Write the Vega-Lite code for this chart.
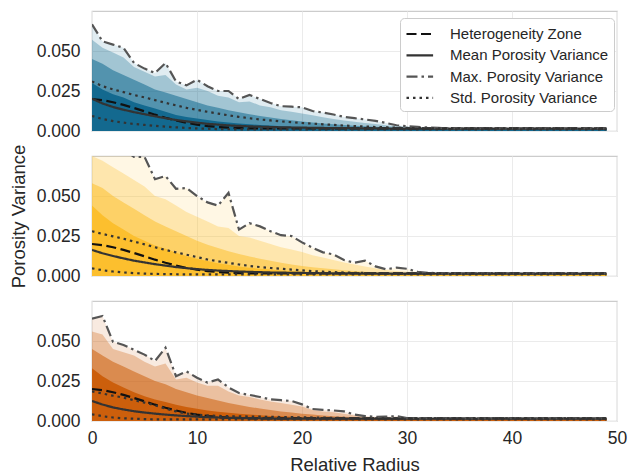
{
"$schema":"https://vega.github.io/schema/vega-lite/v6.json",
"padding":{"left":8,"top":10,"right":5,"bottom":0},
"bounds":"flush",
"spacing":25,
"config":{
 "font":"Liberation Sans",
 "view":{"stroke":"#cccccc","strokeWidth":1.25},
 "axis":{"grid":true,"gridColor":"#ebebeb","gridWidth":1,"domain":false,"ticks":false,"labelFontSize":17.5,"labelColor":"#262626","titleFontSize":18.5,"titleColor":"#262626","titleFontWeight":"normal","labelFont":"Liberation Sans","titleFont":"Liberation Sans","labelFlush":false}
},
"datasets":{"d":[
{"p":1,"x":0,"h":0.02,"m":0.0202,"mx":0.0667,"su":0.031,"sl":0.0094,"q1":0.03,"q2":0.045,"q3":0.057},
{"p":1,"x":1,"h":0.0193,"m":0.0172,"mx":0.056,"su":0.028,"sl":0.0075,"q1":0.026,"q2":0.042,"q3":0.052},
{"p":1,"x":2,"h":0.018,"m":0.015,"mx":0.054,"su":0.026,"sl":0.0062,"q1":0.023,"q2":0.038,"q3":0.049},
{"p":1,"x":3,"h":0.0163,"m":0.0133,"mx":0.052,"su":0.0243,"sl":0.0052,"q1":0.021,"q2":0.035,"q3":0.046},
{"p":1,"x":4,"h":0.0144,"m":0.0118,"mx":0.0425,"su":0.0225,"sl":0.0044,"q1":0.018,"q2":0.032,"q3":0.04},
{"p":1,"x":5,"h":0.0123,"m":0.0105,"mx":0.039,"su":0.021,"sl":0.0038,"q1":0.016,"q2":0.029,"q3":0.037},
{"p":1,"x":6,"h":0.0102,"m":0.0092,"mx":0.0362,"su":0.0193,"sl":0.0032,"q1":0.014,"q2":0.026,"q3":0.034},
{"p":1,"x":7,"h":0.0083,"m":0.008,"mx":0.0425,"su":0.0176,"sl":0.0027,"q1":0.012,"q2":0.024,"q3":0.035},
{"p":1,"x":8,"h":0.0066,"m":0.0069,"mx":0.031,"su":0.016,"sl":0.0023,"q1":0.01,"q2":0.022,"q3":0.029},
{"p":1,"x":9,"h":0.0051,"m":0.006,"mx":0.0285,"su":0.0145,"sl":0.0019,"q1":0.0088,"q2":0.02,"q3":0.026},
{"p":1,"x":10,"h":0.004,"m":0.0052,"mx":0.032,"su":0.0132,"sl":0.0016,"q1":0.0078,"q2":0.018,"q3":0.027},
{"p":1,"x":11,"h":0.0031,"m":0.0045,"mx":0.028,"su":0.012,"sl":0.0014,"q1":0.0068,"q2":0.016,"q3":0.025},
{"p":1,"x":12,"h":0.0025,"m":0.004,"mx":0.025,"su":0.0109,"sl":0.0012,"q1":0.006,"q2":0.0145,"q3":0.022},
{"p":1,"x":13,"h":0.0021,"m":0.0035,"mx":0.025,"su":0.0098,"sl":0.0011,"q1":0.0053,"q2":0.013,"q3":0.021},
{"p":1,"x":14,"h":0.0018,"m":0.0032,"mx":0.02,"su":0.0088,"sl":0.001,"q1":0.0047,"q2":0.0117,"q3":0.018},
{"p":1,"x":15,"h":0.0017,"m":0.0029,"mx":0.0225,"su":0.008,"sl":0.001,"q1":0.0042,"q2":0.0105,"q3":0.0185},
{"p":1,"x":16,"h":0.0016,"m":0.0027,"mx":0.02,"su":0.0072,"sl":0.001,"q1":0.0038,"q2":0.0094,"q3":0.016},
{"p":1,"x":17,"h":0.0016,"m":0.0025,"mx":0.0175,"su":0.0066,"sl":0.001,"q1":0.0034,"q2":0.0084,"q3":0.0148},
{"p":1,"x":18,"h":0.0016,"m":0.0023,"mx":0.0155,"su":0.006,"sl":0.001,"q1":0.003,"q2":0.0075,"q3":0.013},
{"p":1,"x":19,"h":0.0016,"m":0.0022,"mx":0.0152,"su":0.0055,"sl":0.001,"q1":0.0027,"q2":0.0067,"q3":0.012},
{"p":1,"x":20,"h":0.0016,"m":0.0021,"mx":0.0148,"su":0.005,"sl":0.001,"q1":0.0025,"q2":0.006,"q3":0.011},
{"p":1,"x":21,"h":0.0016,"m":0.002,"mx":0.0125,"su":0.0046,"sl":0.001,"q1":0.0023,"q2":0.0053,"q3":0.0098},
{"p":1,"x":22,"h":0.0016,"m":0.0019,"mx":0.0115,"su":0.0042,"sl":0.001,"q1":0.0021,"q2":0.0047,"q3":0.0086},
{"p":1,"x":23,"h":0.0016,"m":0.0018,"mx":0.0103,"su":0.0038,"sl":0.001,"q1":0.002,"q2":0.0042,"q3":0.0075},
{"p":1,"x":24,"h":0.0016,"m":0.0018,"mx":0.0088,"su":0.0034,"sl":0.001,"q1":0.0019,"q2":0.0037,"q3":0.0066},
{"p":1,"x":25,"h":0.0016,"m":0.0017,"mx":0.008,"su":0.0031,"sl":0.001,"q1":0.0018,"q2":0.0033,"q3":0.0058},
{"p":1,"x":26,"h":0.0016,"m":0.0017,"mx":0.0072,"su":0.0028,"sl":0.001,"q1":0.0017,"q2":0.0029,"q3":0.005},
{"p":1,"x":27,"h":0.0016,"m":0.0016,"mx":0.0063,"su":0.0025,"sl":0.001,"q1":0.0016,"q2":0.0026,"q3":0.0043},
{"p":1,"x":28,"h":0.0016,"m":0.0016,"mx":0.005,"su":0.0023,"sl":0.001,"q1":0.0015,"q2":0.0023,"q3":0.0036},
{"p":1,"x":29,"h":0.0016,"m":0.0015,"mx":0.0036,"su":0.0021,"sl":0.001,"q1":0.0015,"q2":0.0021,"q3":0.003},
{"p":1,"x":30,"h":0.0016,"m":0.0015,"mx":0.003,"su":0.0019,"sl":0.001,"q1":0.0015,"q2":0.0019,"q3":0.0026},
{"p":1,"x":31,"h":0.0016,"m":0.0015,"mx":0.0026,"su":0.0018,"sl":0.001,"q1":0.0015,"q2":0.0018,"q3":0.0022},
{"p":1,"x":32,"h":0.0016,"m":0.0015,"mx":0.0022,"su":0.0017,"sl":0.001,"q1":0.0015,"q2":0.0017,"q3":0.002},
{"p":1,"x":33,"h":0.0016,"m":0.0015,"mx":0.0019,"su":0.0016,"sl":0.001,"q1":0.0015,"q2":0.0016,"q3":0.0018},
{"p":1,"x":34,"h":0.0016,"m":0.0015,"mx":0.0017,"su":0.0016,"sl":0.001,"q1":0.0015,"q2":0.0016,"q3":0.0016},
{"p":1,"x":35,"h":0.0016,"m":0.0015,"mx":0.0016,"su":0.0016,"sl":0.001,"q1":0.0015,"q2":0.0016,"q3":0.0016},
{"p":1,"x":49,"h":0.0016,"m":0.0015,"mx":0.0016,"su":0.0016,"sl":0.001,"q1":0.0015,"q2":0.0016,"q3":0.0016},
{"p":2,"x":0,"h":0.02,"m":0.0163,"mx":0.095,"su":0.028,"sl":0.0048,"q1":0.044,"q2":0.058,"q3":0.075},
{"p":2,"x":1,"h":0.0193,"m":0.0142,"mx":0.09,"su":0.0263,"sl":0.0036,"q1":0.038,"q2":0.055,"q3":0.072},
{"p":2,"x":2,"h":0.018,"m":0.0125,"mx":0.085,"su":0.0248,"sl":0.0028,"q1":0.033,"q2":0.05,"q3":0.068},
{"p":2,"x":3,"h":0.0163,"m":0.011,"mx":0.079,"su":0.0233,"sl":0.0022,"q1":0.029,"q2":0.046,"q3":0.064},
{"p":2,"x":4,"h":0.0144,"m":0.0096,"mx":0.0745,"su":0.0215,"sl":0.0018,"q1":0.025,"q2":0.042,"q3":0.06},
{"p":2,"x":5,"h":0.0123,"m":0.0085,"mx":0.0745,"su":0.0198,"sl":0.0015,"q1":0.022,"q2":0.038,"q3":0.056},
{"p":2,"x":6,"h":0.0102,"m":0.0074,"mx":0.0605,"su":0.018,"sl":0.0013,"q1":0.019,"q2":0.034,"q3":0.05},
{"p":2,"x":7,"h":0.0083,"m":0.0065,"mx":0.0625,"su":0.0163,"sl":0.0012,"q1":0.017,"q2":0.031,"q3":0.048},
{"p":2,"x":8,"h":0.0066,"m":0.0056,"mx":0.0545,"su":0.0148,"sl":0.0011,"q1":0.0145,"q2":0.028,"q3":0.044},
{"p":2,"x":9,"h":0.0051,"m":0.0049,"mx":0.055,"su":0.0133,"sl":0.001,"q1":0.0125,"q2":0.025,"q3":0.04},
{"p":2,"x":10,"h":0.004,"m":0.0043,"mx":0.05,"su":0.0118,"sl":0.001,"q1":0.0108,"q2":0.022,"q3":0.037},
{"p":2,"x":11,"h":0.0031,"m":0.0038,"mx":0.046,"su":0.0103,"sl":0.001,"q1":0.0093,"q2":0.0195,"q3":0.034},
{"p":2,"x":12,"h":0.0025,"m":0.0034,"mx":0.044,"su":0.0092,"sl":0.001,"q1":0.008,"q2":0.0175,"q3":0.031},
{"p":2,"x":13,"h":0.0021,"m":0.0031,"mx":0.052,"su":0.0082,"sl":0.001,"q1":0.007,"q2":0.0155,"q3":0.03},
{"p":2,"x":14,"h":0.0018,"m":0.0028,"mx":0.029,"su":0.0072,"sl":0.001,"q1":0.006,"q2":0.0138,"q3":0.025},
{"p":2,"x":15,"h":0.0017,"m":0.0026,"mx":0.033,"su":0.0063,"sl":0.001,"q1":0.0052,"q2":0.0122,"q3":0.024},
{"p":2,"x":16,"h":0.0016,"m":0.0024,"mx":0.031,"su":0.0056,"sl":0.001,"q1":0.0045,"q2":0.0108,"q3":0.022},
{"p":2,"x":17,"h":0.0016,"m":0.0022,"mx":0.028,"su":0.005,"sl":0.001,"q1":0.004,"q2":0.0095,"q3":0.02},
{"p":2,"x":18,"h":0.0016,"m":0.0021,"mx":0.0255,"su":0.0045,"sl":0.001,"q1":0.0035,"q2":0.0083,"q3":0.018},
{"p":2,"x":19,"h":0.0016,"m":0.002,"mx":0.025,"su":0.004,"sl":0.001,"q1":0.0031,"q2":0.0072,"q3":0.0165},
{"p":2,"x":20,"h":0.0016,"m":0.0019,"mx":0.021,"su":0.0035,"sl":0.001,"q1":0.0028,"q2":0.0063,"q3":0.015},
{"p":2,"x":21,"h":0.0016,"m":0.0018,"mx":0.0177,"su":0.003,"sl":0.001,"q1":0.0025,"q2":0.0055,"q3":0.013},
{"p":2,"x":22,"h":0.0016,"m":0.0017,"mx":0.0148,"su":0.0027,"sl":0.001,"q1":0.0023,"q2":0.0048,"q3":0.0115},
{"p":2,"x":23,"h":0.0016,"m":0.0017,"mx":0.0135,"su":0.0024,"sl":0.001,"q1":0.0021,"q2":0.0042,"q3":0.01},
{"p":2,"x":24,"h":0.0016,"m":0.0016,"mx":0.01,"su":0.0022,"sl":0.001,"q1":0.002,"q2":0.0036,"q3":0.0085},
{"p":2,"x":25,"h":0.0016,"m":0.0016,"mx":0.0083,"su":0.002,"sl":0.001,"q1":0.0019,"q2":0.0031,"q3":0.0072},
{"p":2,"x":26,"h":0.0016,"m":0.0015,"mx":0.0096,"su":0.0019,"sl":0.001,"q1":0.0018,"q2":0.0027,"q3":0.006},
{"p":2,"x":27,"h":0.0016,"m":0.0015,"mx":0.006,"su":0.0018,"sl":0.001,"q1":0.0017,"q2":0.0024,"q3":0.0048},
{"p":2,"x":28,"h":0.0016,"m":0.0015,"mx":0.0042,"su":0.0017,"sl":0.001,"q1":0.0016,"q2":0.0021,"q3":0.0038},
{"p":2,"x":29,"h":0.0016,"m":0.0015,"mx":0.0052,"su":0.0016,"sl":0.001,"q1":0.0015,"q2":0.0019,"q3":0.0032},
{"p":2,"x":30,"h":0.0016,"m":0.0015,"mx":0.0045,"su":0.0016,"sl":0.001,"q1":0.0015,"q2":0.0018,"q3":0.0027},
{"p":2,"x":31,"h":0.0016,"m":0.0015,"mx":0.0026,"su":0.0016,"sl":0.001,"q1":0.0015,"q2":0.0017,"q3":0.0022},
{"p":2,"x":32,"h":0.0016,"m":0.0015,"mx":0.002,"su":0.0016,"sl":0.001,"q1":0.0015,"q2":0.0016,"q3":0.0019},
{"p":2,"x":33,"h":0.0016,"m":0.0015,"mx":0.0017,"su":0.0016,"sl":0.001,"q1":0.0015,"q2":0.0016,"q3":0.0017},
{"p":2,"x":34,"h":0.0016,"m":0.0015,"mx":0.0016,"su":0.0016,"sl":0.001,"q1":0.0015,"q2":0.0016,"q3":0.0016},
{"p":2,"x":49,"h":0.0016,"m":0.0015,"mx":0.0016,"su":0.0016,"sl":0.001,"q1":0.0015,"q2":0.0016,"q3":0.0016},
{"p":3,"x":0,"h":0.02,"m":0.0125,"mx":0.0639,"su":0.0185,"sl":0.0042,"q1":0.033,"q2":0.045,"q3":0.056},
{"p":3,"x":1,"h":0.0193,"m":0.0103,"mx":0.0656,"su":0.0172,"sl":0.003,"q1":0.028,"q2":0.041,"q3":0.054},
{"p":3,"x":2,"h":0.018,"m":0.0085,"mx":0.0495,"su":0.0158,"sl":0.0022,"q1":0.024,"q2":0.037,"q3":0.045},
{"p":3,"x":3,"h":0.0163,"m":0.0072,"mx":0.0475,"su":0.0146,"sl":0.0017,"q1":0.021,"q2":0.034,"q3":0.043},
{"p":3,"x":4,"h":0.0144,"m":0.0061,"mx":0.0445,"su":0.013,"sl":0.0014,"q1":0.018,"q2":0.031,"q3":0.041},
{"p":3,"x":5,"h":0.0123,"m":0.0053,"mx":0.0415,"su":0.0115,"sl":0.0012,"q1":0.0155,"q2":0.028,"q3":0.037},
{"p":3,"x":6,"h":0.0102,"m":0.0046,"mx":0.0375,"su":0.0098,"sl":0.001,"q1":0.0135,"q2":0.025,"q3":0.034},
{"p":3,"x":7,"h":0.0083,"m":0.004,"mx":0.0458,"su":0.0078,"sl":0.001,"q1":0.0118,"q2":0.023,"q3":0.036},
{"p":3,"x":8,"h":0.0066,"m":0.0035,"mx":0.028,"su":0.006,"sl":0.001,"q1":0.0102,"q2":0.02,"q3":0.026},
{"p":3,"x":9,"h":0.0051,"m":0.0031,"mx":0.031,"su":0.0046,"sl":0.001,"q1":0.0088,"q2":0.018,"q3":0.027},
{"p":3,"x":10,"h":0.004,"m":0.0027,"mx":0.027,"su":0.004,"sl":0.001,"q1":0.0076,"q2":0.016,"q3":0.024},
{"p":3,"x":11,"h":0.0031,"m":0.0024,"mx":0.024,"su":0.0035,"sl":0.001,"q1":0.0066,"q2":0.0143,"q3":0.022},
{"p":3,"x":12,"h":0.0025,"m":0.0022,"mx":0.026,"su":0.0032,"sl":0.001,"q1":0.0058,"q2":0.0128,"q3":0.022},
{"p":3,"x":13,"h":0.0021,"m":0.002,"mx":0.021,"su":0.003,"sl":0.001,"q1":0.0051,"q2":0.0113,"q3":0.0185},
{"p":3,"x":14,"h":0.0018,"m":0.0019,"mx":0.0175,"su":0.0029,"sl":0.001,"q1":0.0045,"q2":0.01,"q3":0.016},
{"p":3,"x":15,"h":0.0017,"m":0.0018,"mx":0.0163,"su":0.0028,"sl":0.001,"q1":0.004,"q2":0.0088,"q3":0.015},
{"p":3,"x":16,"h":0.0016,"m":0.0017,"mx":0.015,"su":0.0027,"sl":0.001,"q1":0.0036,"q2":0.0078,"q3":0.0135},
{"p":3,"x":17,"h":0.0016,"m":0.0016,"mx":0.0135,"su":0.0026,"sl":0.001,"q1":0.0032,"q2":0.0068,"q3":0.0122},
{"p":3,"x":18,"h":0.0016,"m":0.0015,"mx":0.013,"su":0.0025,"sl":0.001,"q1":0.0029,"q2":0.006,"q3":0.0112},
{"p":3,"x":19,"h":0.0016,"m":0.0015,"mx":0.0125,"su":0.0024,"sl":0.001,"q1":0.0026,"q2":0.0053,"q3":0.0102},
{"p":3,"x":20,"h":0.0016,"m":0.0015,"mx":0.0104,"su":0.0023,"sl":0.001,"q1":0.0024,"q2":0.0046,"q3":0.009},
{"p":3,"x":21,"h":0.0016,"m":0.0015,"mx":0.0075,"su":0.0022,"sl":0.001,"q1":0.0022,"q2":0.004,"q3":0.0068},
{"p":3,"x":22,"h":0.0016,"m":0.0015,"mx":0.007,"su":0.0021,"sl":0.001,"q1":0.002,"q2":0.0035,"q3":0.006},
{"p":3,"x":23,"h":0.0016,"m":0.0015,"mx":0.0066,"su":0.002,"sl":0.001,"q1":0.0019,"q2":0.003,"q3":0.0054},
{"p":3,"x":24,"h":0.0016,"m":0.0015,"mx":0.006,"su":0.0019,"sl":0.001,"q1":0.0018,"q2":0.0026,"q3":0.0046},
{"p":3,"x":25,"h":0.0016,"m":0.0015,"mx":0.004,"su":0.0018,"sl":0.001,"q1":0.0017,"q2":0.0023,"q3":0.0034},
{"p":3,"x":26,"h":0.0016,"m":0.0015,"mx":0.0031,"su":0.0017,"sl":0.001,"q1":0.0016,"q2":0.002,"q3":0.0027},
{"p":3,"x":27,"h":0.0016,"m":0.0015,"mx":0.0026,"su":0.0016,"sl":0.001,"q1":0.0015,"q2":0.0018,"q3":0.0023},
{"p":3,"x":28,"h":0.0016,"m":0.0015,"mx":0.0028,"su":0.0016,"sl":0.001,"q1":0.0015,"q2":0.0017,"q3":0.002},
{"p":3,"x":29,"h":0.0016,"m":0.0015,"mx":0.003,"su":0.0016,"sl":0.001,"q1":0.0015,"q2":0.0016,"q3":0.0018},
{"p":3,"x":30,"h":0.0016,"m":0.0015,"mx":0.0018,"su":0.0016,"sl":0.001,"q1":0.0015,"q2":0.0016,"q3":0.0016},
{"p":3,"x":31,"h":0.0016,"m":0.0015,"mx":0.0017,"su":0.0016,"sl":0.001,"q1":0.0015,"q2":0.0016,"q3":0.0016},
{"p":3,"x":32,"h":0.0016,"m":0.0015,"mx":0.0016,"su":0.0016,"sl":0.001,"q1":0.0015,"q2":0.0016,"q3":0.0016},
{"p":3,"x":49,"h":0.0016,"m":0.0015,"mx":0.0016,"su":0.0016,"sl":0.001,"q1":0.0015,"q2":0.0016,"q3":0.0016}
]},
"data":{"name":"d"},
"resolve":{"legend":{"color":"independent","strokeDash":"independent"}},
"vconcat":[
{"width":525,"height":120,"transform":[{"filter":"datum.p == 1"}],
 "encoding":{"x":{"field":"x","type":"quantitative","scale":{"domain":[0,50],"nice":false},"axis":{"values":[0,10,20,30,40,50],"labels":false,"title":null}},
   "y":{"field":"v","type":"quantitative","stack":null,"scale":{"domain":[0,0.075],"nice":false,"zero":false},"axis":{"values":[0,0.025,0.05],"format":".3f","title":null,"labelPadding":12}}},
 "layer":[
  {"transform":[{"fold":["mx"],"as":["b","v"]}],"mark":{"type":"area","color":"#13698f","opacity":0.13,"clip":true}},
  {"transform":[{"fold":["q3"],"as":["b","v"]}],"mark":{"type":"area","color":"#13698f","opacity":0.3,"clip":true}},
  {"transform":[{"fold":["q2"],"as":["b","v"]}],"mark":{"type":"area","color":"#13698f","opacity":0.55,"clip":true}},
  {"transform":[{"fold":["q1"],"as":["b","v"]}],"mark":{"type":"area","color":"#13698f","opacity":1,"clip":true}},
  {"transform":[{"fold":["h","m","mx","su","sl"],"as":["k","v"]}],
   "mark":{"type":"line","strokeWidth":2.2,"clip":true},
   "encoding":{
    "color":{"field":"k","type":"nominal","scale":{"domain":["h","m","mx","su","sl"],"range":["#111111","#333333","#555555","#333333","#333333"]},
      "legend":{"values":["h","m","mx","su"],"labelExpr":"datum.value == 'h' ? 'Heterogeneity Zone' : datum.value == 'm' ? 'Mean Porosity Variance' : datum.value == 'mx' ? 'Max. Porosity Variance' : 'Std. Porosity Variance'","title":null,"orient":"none","legendX":308,"legendY":7,"symbolType":"M-1,0H1.8","symbolSize":361,"symbolStrokeWidth":2.2,"labelFontSize":15,"labelColor":"#262626","labelFont":"Liberation Sans","padding":5,"rowPadding":2.3,"labelOffset":23,"strokeColor":"#cccccc","fillColor":"white","cornerRadius":4}},
    "strokeDash":{"field":"k","type":"nominal","scale":{"domain":["h","m","mx","su","sl"],"range":[[10,4.5],[1,0],[11,4,2.5,4],[2.5,4],[2.5,4]]},
      "legend":{"values":["h","m","mx","su"],"labelExpr":"datum.value == 'h' ? 'Heterogeneity Zone' : datum.value == 'm' ? 'Mean Porosity Variance' : datum.value == 'mx' ? 'Max. Porosity Variance' : 'Std. Porosity Variance'","title":null,"orient":"none","legendX":308,"legendY":7,"symbolType":"M-1,0H1.8","symbolSize":361,"symbolStrokeWidth":2.2,"labelFontSize":15,"labelColor":"#262626","labelFont":"Liberation Sans","padding":5,"rowPadding":2.3,"labelOffset":23,"strokeColor":"#cccccc","fillColor":"white","cornerRadius":4}},
    "detail":{"field":"k","type":"nominal"}}}
 ]},
{"width":525,"height":120,"transform":[{"filter":"datum.p == 2"}],
 "encoding":{"x":{"field":"x","type":"quantitative","scale":{"domain":[0,50],"nice":false},"axis":{"values":[0,10,20,30,40,50],"labels":false,"title":null}},
   "y":{"field":"v","type":"quantitative","stack":null,"scale":{"domain":[0,0.075],"nice":false,"zero":false},"axis":{"values":[0,0.025,0.05],"format":".3f","title":"Porosity Variance","labelPadding":12,"titlePadding":8}}},
 "layer":[
  {"transform":[{"fold":["mx"],"as":["b","v"]}],"mark":{"type":"area","color":"#fcbf2e","opacity":0.13,"clip":true}},
  {"transform":[{"fold":["q3"],"as":["b","v"]}],"mark":{"type":"area","color":"#fcbf2e","opacity":0.3,"clip":true}},
  {"transform":[{"fold":["q2"],"as":["b","v"]}],"mark":{"type":"area","color":"#fcbf2e","opacity":0.55,"clip":true}},
  {"transform":[{"fold":["q1"],"as":["b","v"]}],"mark":{"type":"area","color":"#fcbf2e","opacity":1,"clip":true}},
  {"transform":[{"fold":["h","m","mx","su","sl"],"as":["k","v"]}],
   "mark":{"type":"line","strokeWidth":2.2,"clip":true},
   "encoding":{
    "color":{"field":"k","type":"nominal","scale":{"domain":["h","m","mx","su","sl"],"range":["#111111","#333333","#555555","#333333","#333333"]},"legend":null},
    "strokeDash":{"field":"k","type":"nominal","scale":{"domain":["h","m","mx","su","sl"],"range":[[10,4.5],[1,0],[11,4,2.5,4],[2.5,4],[2.5,4]]},"legend":null},
    "detail":{"field":"k","type":"nominal"}}}
 ]},
{"width":525,"height":120,"transform":[{"filter":"datum.p == 3"}],
 "encoding":{"x":{"field":"x","type":"quantitative","scale":{"domain":[0,50],"nice":false},"axis":{"values":[0,10,20,30,40,50],"title":"Relative Radius","labelPadding":8,"titlePadding":9}},
   "y":{"field":"v","type":"quantitative","stack":null,"scale":{"domain":[0,0.075],"nice":false,"zero":false},"axis":{"values":[0,0.025,0.05],"format":".3f","title":null,"labelPadding":12}}},
 "layer":[
  {"transform":[{"fold":["mx"],"as":["b","v"]}],"mark":{"type":"area","color":"#cc5f0c","opacity":0.13,"clip":true}},
  {"transform":[{"fold":["q3"],"as":["b","v"]}],"mark":{"type":"area","color":"#cc5f0c","opacity":0.3,"clip":true}},
  {"transform":[{"fold":["q2"],"as":["b","v"]}],"mark":{"type":"area","color":"#cc5f0c","opacity":0.55,"clip":true}},
  {"transform":[{"fold":["q1"],"as":["b","v"]}],"mark":{"type":"area","color":"#cc5f0c","opacity":1,"clip":true}},
  {"transform":[{"fold":["h","m","mx","su","sl"],"as":["k","v"]}],
   "mark":{"type":"line","strokeWidth":2.2,"clip":true},
   "encoding":{
    "color":{"field":"k","type":"nominal","scale":{"domain":["h","m","mx","su","sl"],"range":["#111111","#333333","#555555","#333333","#333333"]},"legend":null},
    "strokeDash":{"field":"k","type":"nominal","scale":{"domain":["h","m","mx","su","sl"],"range":[[10,4.5],[1,0],[11,4,2.5,4],[2.5,4],[2.5,4]]},"legend":null},
    "detail":{"field":"k","type":"nominal"}}}
 ]}
]
}
